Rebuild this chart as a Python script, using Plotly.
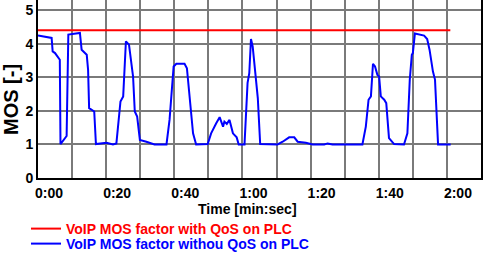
import plotly.graph_objects as go

# Time in seconds
time_qos = [0, 121]
mos_qos = [4.40, 4.40]

time_noqos = [0, 4.0, 4.3, 5.0, 6.4, 6.6, 8.4, 8.9, 12.3, 12.8, 14.3, 14.7, 15.0, 16.5, 17.0,
              20.1, 22.0, 23.0, 24.2, 25.0, 25.8, 26.7, 27.9, 28.4, 29.1, 29.9, 31.8, 34.2,
              37.7, 38.6, 39.8, 40.6, 43.0, 43.7, 45.5, 46.4, 49.8, 50.8, 52.3, 53.3, 54.3,
              54.7, 55.4, 56.2, 57.2, 58.3, 58.9, 60.6, 61.5, 62.0, 62.5, 63.0, 64.5, 65.2,
              70.3, 71.8, 73.7, 75.2, 76.2, 78.6, 80.6, 84.0, 85.0, 86.4, 95.2, 96.2, 97.0,
              97.7, 98.3, 98.9, 99.6, 100.1, 100.6, 101.6, 102.2, 103.0, 104.5, 107.4, 108.4,
              109.1, 109.7, 110.0, 110.6, 113.3, 114.2, 114.9, 115.9, 116.5, 117.4, 121.1]
mos_noqos = [4.24, 4.17, 3.77, 3.72, 3.52, 1.01, 1.25, 4.27, 4.32, 3.82, 3.67, 3.22, 2.08, 1.98, 1.01,
             1.05, 1.0, 1.03, 2.28, 2.43, 4.07, 3.97, 3.02, 1.98, 1.83, 1.13, 1.08, 1.0,
             1.0, 1.73, 3.32, 3.40, 3.40, 3.27, 1.33, 1.0, 1.01, 1.33, 1.63, 1.81, 1.53,
             1.68, 1.61, 1.73, 1.33, 1.21, 1.0, 1.0, 2.83, 3.12, 4.14, 3.92, 2.38, 1.01,
             1.0, 1.08, 1.21, 1.21, 1.08, 1.05, 1.0, 1.0, 1.03, 1.0, 1.0, 1.53, 2.33,
             2.43, 3.40, 3.32, 3.07, 3.02, 2.43, 2.33, 2.23, 1.19, 1.01, 1.0, 1.33,
             2.93, 3.67, 3.72, 4.30, 4.24, 4.14, 3.82, 3.17, 2.93, 1.0, 1.0]

tick_vals = [0, 20, 40, 60, 80, 100, 120]
tick_text = ["0:00", "0:20", "0:40", "1:00", "1:20", "1:40", "2:00"]
grid_step = 10  # gridlines every 10 s, labels every 20 s

name_qos = "VoIP MOS factor with QoS on PLC"
name_noqos = "VoIP MOS factor withou QoS on PLC"

label_map = dict(zip(tick_vals, tick_text))
all_vals = list(range(0, 131, grid_step))
all_text = [label_map.get(v, "") for v in all_vals]

FONT = "Liberation Sans, Arial, sans-serif"
W, H = 483, 253
L, R, T, B = 38, 2, 0, 75
PW, PH = W - L - R, H - T - B

fig = go.Figure()
fig.add_trace(go.Scatter(
    x=time_qos, y=mos_qos, mode="lines",
    line=dict(color="#ff0000", width=2),
    name=f"<span style='color:#ff0000'><b>{name_qos}</b></span>",
    legend="legend",
))
fig.add_trace(go.Scatter(
    x=time_noqos, y=mos_noqos, mode="lines",
    line=dict(color="#0000ff", width=2),
    name=f"<span style='color:#0000ff'><b>{name_noqos}</b></span>",
    legend="legend2",
))

legend_common = dict(
    xref="container", yref="container",
    xanchor="left", yanchor="middle",
    bgcolor="rgba(0,0,0,0)", borderwidth=0,
    font=dict(family=FONT, size=14),
)

fig.update_layout(
    width=W, height=H,
    margin=dict(l=L, r=R, t=T, b=B, autoexpand=False),
    paper_bgcolor="white", plot_bgcolor="white",
    font=dict(family=FONT, size=14, color="black"),
    showlegend=True,
    legend=dict(x=26 / W, y=(H - 229) / H, **legend_common),
    legend2=dict(x=26 / W, y=(H - 244) / H, **legend_common),
    xaxis=dict(
        range=[0, 130],
        tickmode="array", tickvals=all_vals, ticktext=all_text,
        showgrid=True, gridcolor="#7a7a7a", gridwidth=1.5,
        showline=True, linecolor="black", linewidth=2, mirror=True,
        ticks="", ticklabelshift=11, ticklabelstandoff=1,
        tickfont=dict(family=FONT, size=14, weight="bold"),
        zeroline=False,
    ),
    yaxis=dict(
        range=[0, 5.3], dtick=1, tick0=0,
        showgrid=True, gridcolor="#7a7a7a", gridwidth=1.5,
        showline=True, linecolor="black", linewidth=2, mirror=True,
        ticks="",
        tickfont=dict(family=FONT, size=14, weight="bold"),
        zeroline=False,
    ),
    annotations=[
        dict(text="<b>Time [min:sec]</b>", xref="paper", yref="paper",
             x=(247 - L) / PW, y=(PH - 209) / PH, xanchor="center", yanchor="middle",
             showarrow=False, font=dict(family=FONT, size=14, color="black")),
        dict(text="<b>MOS [-]</b>", xref="paper", yref="paper",
             x=(11 - L) / PW, y=(PH - 100) / PH, xanchor="center", yanchor="middle",
             textangle=-90, showarrow=False, font=dict(family=FONT, size=20, color="black")),
    ],
)

# remove the default 8px page margin so the figure fills the window exactly
fig.write_html("out.html", config={"displayModeBar": False},
               post_script="document.body.style.margin='0';")
